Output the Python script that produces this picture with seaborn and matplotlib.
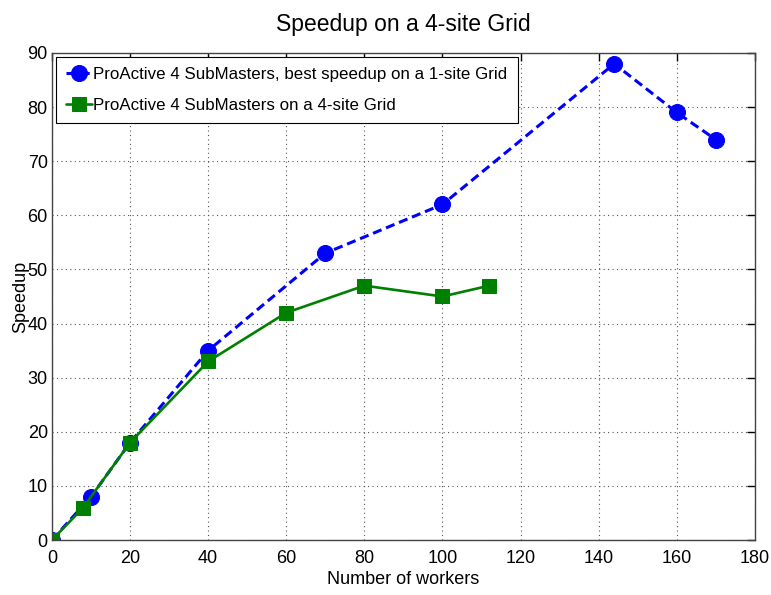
import matplotlib
matplotlib.use("Agg")
import matplotlib.pyplot as plt
import seaborn as sns
import pandas as pd

# Workers / speedup measurements
workers_1site = [0, 10, 20, 40, 70, 100, 144, 160, 170]
speedup_1site = [0, 8, 18, 35, 53, 62, 88, 79, 74]
workers_4site = [0, 8, 20, 40, 60, 80, 100, 112]
speedup_4site = [0, 6, 18, 33, 42, 47, 45, 47]

label_1site = "ProActive 4 SubMasters, best speedup on a 1-site Grid"
label_4site = "ProActive 4 SubMasters on a 4-site Grid"
x_ticks = list(range(0, 181, 20))
y_ticks = list(range(0, 91, 10))

sns.set_style("white")
plt.rcParams["font.family"] = ["Liberation Sans", "DejaVu Sans"]
plt.rcParams["text.color"] = "black"
plt.rcParams["axes.labelcolor"] = "black"

df1 = pd.DataFrame({"workers": workers_1site, "speedup": speedup_1site})
df2 = pd.DataFrame({"workers": workers_4site, "speedup": speedup_4site})

fig = plt.figure(figsize=(7.71, 5.95), dpi=100)
ax = fig.add_axes([0.0674, 0.0924, 0.9116, 0.8186])

sns.lineplot(data=df1, x="workers", y="speedup", ax=ax, color="#0000ff",
             linestyle=(0, (3.0, 1.6)), linewidth=2.2, marker="o",
             markersize=11.5, markeredgecolor="#0000ff", label=label_1site,
             estimator=None, sort=False)
sns.lineplot(data=df2, x="workers", y="speedup", ax=ax, color="#008000",
             linestyle="-", linewidth=1.9, marker="s",
             markersize=10.5, markeredgecolor="#008000", label=label_4site,
             estimator=None, sort=False)

ax.set_xlim(0, 180)
ax.set_ylim(0, 90)
ax.set_xticks(x_ticks)
ax.set_yticks(y_ticks)
ax.tick_params(direction="in", length=6, width=1, labelsize=13, top=True,
               right=True, colors="black")
ax.tick_params(axis="x", pad=7)
ax.tick_params(axis="y", pad=3)
ax.grid(True, linestyle=(0, (1, 3)), color="#555555", linewidth=0.8)
for s in ax.spines.values():
    s.set_visible(True)
    s.set_color("#444444")
    s.set_linewidth(1.0)

ax.set_xlabel("Number of workers", fontsize=13, labelpad=3)
ax.set_ylabel("Speedup", fontsize=13, labelpad=-1)
ax.set_title("Speedup on a 4-site Grid", fontsize=16.5, pad=15.5, color="black")

leg = ax.legend(loc="upper left", fontsize=12.2, frameon=True, fancybox=False,
                edgecolor="black", framealpha=1, borderpad=0.6,
                handlelength=1.5, handletextpad=0.1, labelspacing=0.9,
                borderaxespad=0.25)
leg.get_frame().set_linewidth(0.8)
for t in leg.get_texts():
    t.set_color("black")

fig.savefig("out.png", dpi=100)
